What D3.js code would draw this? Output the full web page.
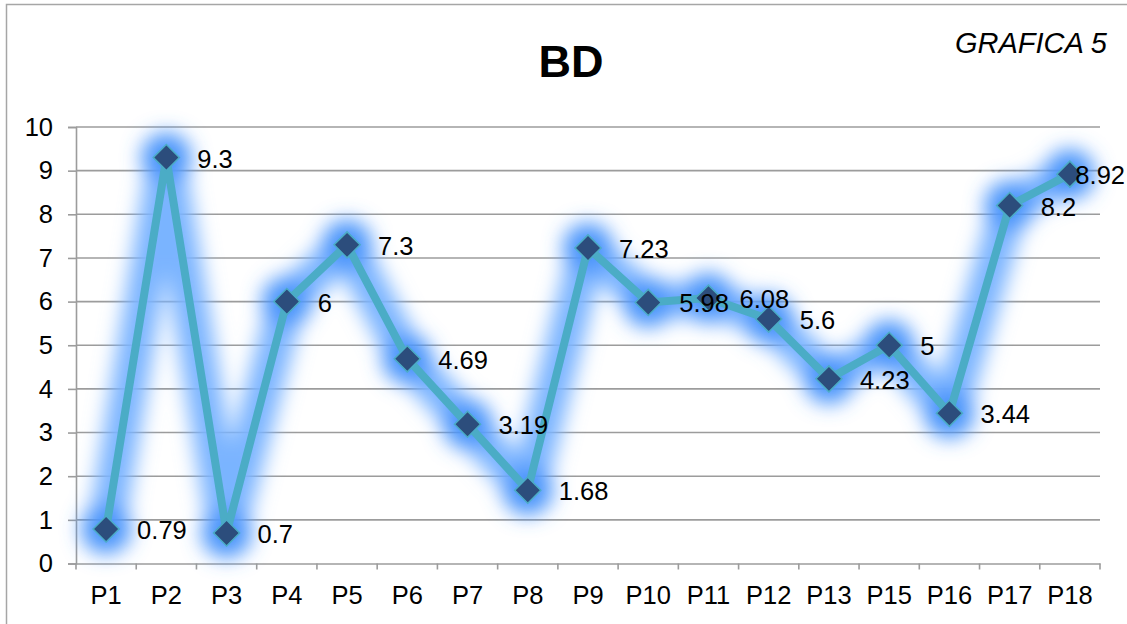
<!DOCTYPE html>
<html><head><meta charset="utf-8">
<script src="https://cdn.jsdelivr.net/npm/d3@7/dist/d3.min.js"></script>
<style>
html,body{margin:0;padding:0;background:#fff;}
svg{display:block;font-family:"Liberation Sans",Arial,Helvetica,sans-serif;}
</style></head>
<body>
<svg id="chart" width="1127" height="624"></svg>
<script>
const categories = ["P1","P2","P3","P4","P5","P6","P7","P8","P9","P10","P11","P12","P13","P15","P16","P17","P18"];
const values = [0.79,9.3,0.7,6,7.3,4.69,3.19,1.68,7.23,5.98,6.08,5.6,4.23,5,3.44,8.2,8.92];
const yTicks = [0,1,2,3,4,5,6,7,8,9,10];
const titleText = "BD";
const cornerText = "GRAFICA 5";

const W = 1127, H = 624;
const m = {left:76, right:27, top:127, bottom:60.5};
const svg = d3.select("#chart");
const FS = 25.5;

// outer border
svg.append("rect").attr("x",6.5).attr("y",4.5).attr("width",W).attr("height",H)
  .attr("fill","none").attr("stroke","#a6a6a6").attr("stroke-width",1.5);

const x = d3.scaleBand().domain(categories).range([m.left, W-m.right]).padding(0);
const y = d3.scaleLinear().domain([0,10]).range([H-m.bottom, m.top]);

const defs = svg.append("defs");
const f = defs.append("filter").attr("id","glow").attr("x","-20%").attr("y","-20%").attr("width","140%").attr("height","140%");
f.append("feGaussianBlur").attr("stdDeviation",10);

// gridlines + y axis
const yAxis = d3.axisLeft(y).tickValues(yTicks).tickSize(8).tickPadding(15).tickFormat(d3.format("d"));
const gy = svg.append("g").attr("transform",`translate(${m.left},0)`).call(yAxis);
gy.select(".domain").attr("stroke","#9c9c9c").attr("stroke-width",1.6);
gy.selectAll(".tick line").attr("stroke","#9c9c9c").attr("stroke-width",1.6);
gy.selectAll(".tick text").attr("font-size",FS).attr("fill","#000").attr("font-family","Liberation Sans, Arial, sans-serif");

svg.append("g").selectAll("line").data(yTicks.filter(d=>d>0)).join("line")
  .attr("x1",m.left).attr("x2",W-m.right)
  .attr("y1",d=>y(d)).attr("y2",d=>y(d))
  .attr("stroke","#9c9c9c").attr("stroke-width",1.6);

// x axis
const xAxis = d3.axisBottom(x).tickSize(0).tickPadding(22);
const gx = svg.append("g").attr("transform",`translate(0,${y(0)})`).call(xAxis);
gx.select(".domain").attr("stroke","#9c9c9c").attr("stroke-width",1.6);
gx.selectAll(".tick text").attr("font-size",FS).attr("fill","#000").attr("font-family","Liberation Sans, Arial, sans-serif");
const edges = categories.map(c=>x(c)).concat([W-m.right]);
svg.append("g").selectAll("line").data(edges).join("line")
  .attr("x1",d=>d).attr("x2",d=>d).attr("y1",y(0)).attr("y2",y(0)+6)
  .attr("stroke","#9c9c9c").attr("stroke-width",1.6);

const cx = d=>x(d.c)+x.bandwidth()/2;
const pts = categories.map((c,i)=>({c, v:values[i]}));
const line = d3.line().x(cx).y(d=>y(d.v));

// glow
const glow = svg.append("g").attr("filter","url(#glow)");
glow.append("path").datum(pts).attr("d",line).attr("fill","none")
  .attr("stroke","#7ab4ff").attr("stroke-width",36).attr("stroke-linejoin","round").attr("stroke-linecap","round");
glow.selectAll("circle").data(pts).join("circle")
  .attr("cx",cx).attr("cy",d=>y(d.v)).attr("r",25).attr("fill","#4a94fb");

// line
svg.append("path").datum(pts).attr("d",line).attr("fill","none")
  .attr("stroke","#4bacc6").attr("stroke-width",8).attr("stroke-linejoin","miter");

// markers
const sym = d3.symbol().type(d3.symbolSquare).size(340);
svg.append("g").selectAll("path").data(pts).join("path")
  .attr("d",sym())
  .attr("transform",d=>`translate(${cx(d)},${y(d.v)}) rotate(45)`)
  .attr("fill","#2c4d7c").attr("stroke","#4bacc6").attr("stroke-width",1.5);

// data labels
const labels = svg.append("g").selectAll("text").data(pts).join("text")
  .attr("x",d=>cx(d)+31).attr("y",d=>y(d.v)+10)
  .attr("font-size",FS).attr("fill","#000")
  .text(d=>String(d.v));
labels.each(function(){
  const t = d3.select(this);
  const w = this.getComputedTextLength();
  const xx = +t.attr("x");
  if (xx + w > W-2) t.attr("x", W-2-w);
});

// titles
svg.append("text").attr("x",571).attr("y",77).attr("text-anchor","middle")
  .attr("font-size",45).attr("font-weight","bold").text(titleText);
svg.append("text").attr("x",1107).attr("y",53).attr("text-anchor","end")
  .attr("font-size",29).attr("font-style","italic").text(cornerText);
</script>
</body></html>
